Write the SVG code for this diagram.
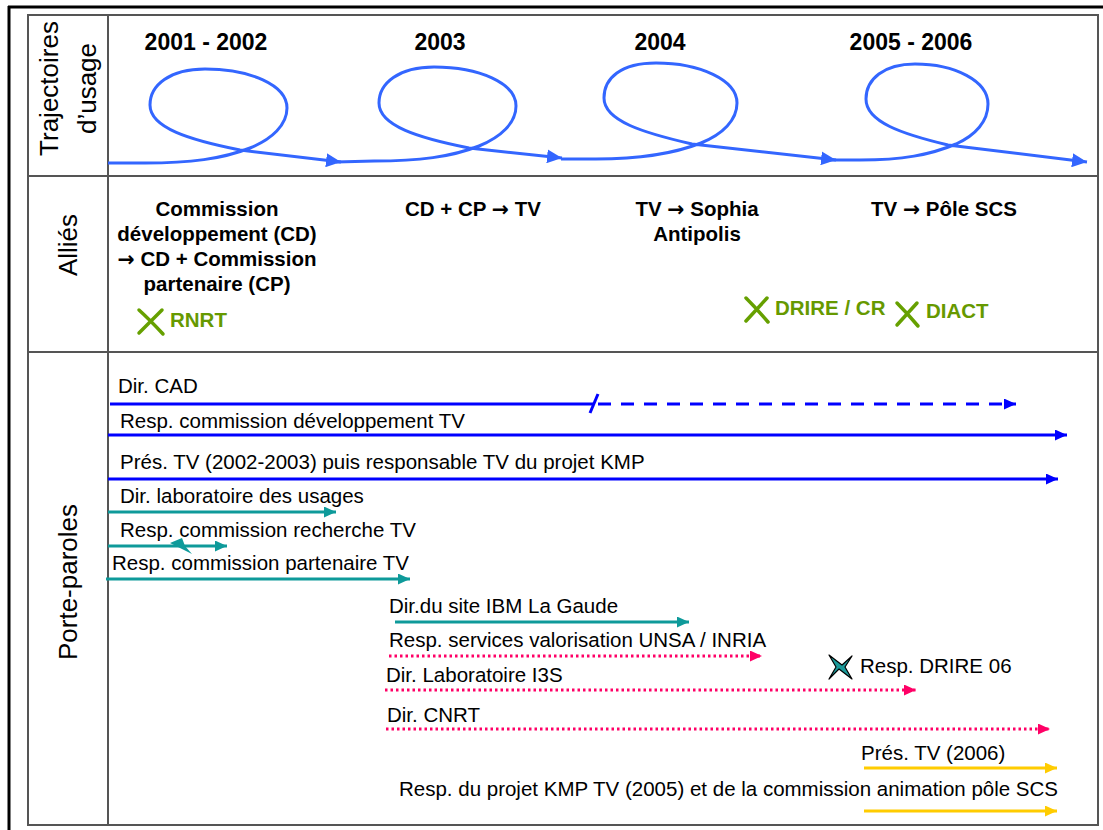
<svg xmlns="http://www.w3.org/2000/svg" width="1103" height="830" viewBox="0 0 1103 830">
<defs>
<style>
text{font-family:"Liberation Sans",Arial,sans-serif;fill:#000}
.side{font-size:26px;text-anchor:middle}
.year{font-size:23px;font-weight:bold;text-anchor:middle}
.ally{font-size:20.5px;font-weight:bold;text-anchor:middle}
.arr{font-family:"DejaVu Sans",sans-serif;font-weight:bold}
.green{font-size:20.5px;font-weight:bold;fill:#669900}
.lbl{font-size:20.5px}
.grid{stroke:#555;stroke-width:2;fill:none}
.traj{fill:none;stroke:#3366ff;stroke-width:3}
.blue{stroke:#0000ff;stroke-width:3;fill:none}
.teal{stroke:#0e9a9a;stroke-width:3;fill:none}
.pink{stroke:#ff0066;stroke-width:3;fill:none;stroke-dasharray:2.5 3}
.yellow{stroke:#ffcc00;stroke-width:3;fill:none}
.gx{stroke:#66a000;stroke-width:3.5;fill:none;stroke-linecap:round}
</style>
<marker id="aTraj" markerUnits="userSpaceOnUse" markerWidth="16" markerHeight="14" refX="15" refY="7" orient="auto"><path d="M0,0 L15,7 L0,14 Z" fill="#3366ff"/></marker>
<marker id="aBlue" markerUnits="userSpaceOnUse" markerWidth="13" markerHeight="11" refX="12" refY="5.5" orient="auto"><path d="M0,0 L12,5.5 L0,11 Z" fill="#0000ff"/></marker>
<marker id="aTeal" markerUnits="userSpaceOnUse" markerWidth="13" markerHeight="11" refX="12" refY="5.5" orient="auto"><path d="M0,0 L12,5.5 L0,11 Z" fill="#0e9a9a"/></marker>
<marker id="aPink" markerUnits="userSpaceOnUse" markerWidth="13" markerHeight="11" refX="12" refY="5.5" orient="auto"><path d="M0,0 L12,5.5 L0,11 Z" fill="#ff0066"/></marker>
<marker id="aYellow" markerUnits="userSpaceOnUse" markerWidth="13" markerHeight="11" refX="12" refY="5.5" orient="auto"><path d="M0,0 L12,5.5 L0,11 Z" fill="#ffcc00"/></marker>
</defs>
<rect x="0" y="0" width="1103" height="830" fill="#fff"/>
<g id="frame">
<path d="M8,7 H1103 M9,6 V830" stroke="#000" stroke-width="3" fill="none"/>
<rect class="grid" x="28" y="15" width="1070" height="810"/>
<path class="grid" d="M28,176 H1098 M28,352 H1098 M108,15 V825"/>
</g>
<g id="row-trajectoires">
<text class="side" transform="translate(58,88.5) rotate(-90)">Trajectoires</text>
<text class="side" transform="translate(96,88.5) rotate(-90)">d’usage</text>
<text class="year" x="206" y="50">2001 - 2002</text>
<text class="year" x="440" y="50">2003</text>
<text class="year" x="660" y="50">2004</text>
<text class="year" x="911" y="50">2005 - 2006</text>
</g>
<g id="trajectory">
<path class="traj" marker-end="url(#aTraj)" d="M108,163 L145,163 C190,163 222,159 250,148 C272,139 287,125 287,108 C287,85 250,69 205,69 C170,69 150,85 150,105 C150,128 190,140 240,150 L341,162"/>
<path class="traj" marker-end="url(#aTraj)" d="M336,162 L374,161 C419,161 451,157 479,146 C501,137 516,123 516,106 C516,83 479,67 434,67 C399,67 379,83 379,103 C379,126 419,138 469,148 L562,158"/>
<path class="traj" marker-end="url(#aTraj)" d="M561,159 L596,159 C641,159 673,154 701,143 C723,134 737,120 737,103 C737,80 700,63 656,63 C621,63 604,78 604,98 C604,121 644,133 692,144 L836,160"/>
<path class="traj" marker-end="url(#aTraj)" d="M826,160 L860,160 C902,160 930,155 956,144 C976,135 988,121 988,104 C988,81 955,64 915,64 C884,64 866,79 866,99 C866,122 902,134 948,145 L1087,162"/>
</g>
<g id="row-allies">
<text class="side" transform="translate(77,245) rotate(-90)">Alliés</text>
<text class="ally" x="217" y="216">Commission</text>
<text class="ally" x="217" y="241">développement (CD)</text>
<text class="ally" x="217" y="266"><tspan class="arr">→</tspan> CD + Commission</text>
<text class="ally" x="217" y="291">partenaire (CP)</text>
<text class="ally" x="473" y="216">CD + CP <tspan class="arr">→</tspan> TV</text>
<text class="ally" x="697" y="216">TV <tspan class="arr">→</tspan> Sophia</text>
<text class="ally" x="697" y="241">Antipolis</text>
<text class="ally" x="944" y="216">TV <tspan class="arr">→</tspan> Pôle SCS</text>
</g>
<g id="ally-rnrt">
<path class="gx" d="M139,310 Q150,320 163,334 M162,310 L139,333"/>
<text class="green" x="170" y="327">RNRT</text>
</g>
<g id="ally-drire">
<path class="gx" d="M746,298 Q756,308 768,322 M767,298 L746,321"/>
<text class="green" x="775" y="315">DRIRE / CR</text>
</g>
<g id="ally-diact">
<path class="gx" d="M897,303 Q907,313 918,326 M917,303 L897,325"/>
<text class="green" x="926" y="318">DIACT</text>
</g>
<g id="row-porte-paroles">
<text class="side" transform="translate(77,582) rotate(-90)">Porte-paroles</text>
</g>
<g id="connectors">
<path class="blue" d="M110,404 H594"/>
<path class="blue" d="M590,413 L598,394"/>
<path class="blue" stroke-dasharray="13 10" marker-end="url(#aBlue)" d="M598,404 H1016"/>
<path class="blue" marker-end="url(#aBlue)" d="M108,435 H1067"/>
<path class="blue" marker-end="url(#aBlue)" d="M108,479 H1058"/>
<path class="teal" marker-end="url(#aTeal)" d="M108,512 H336"/>
<path class="teal" marker-end="url(#aTeal)" d="M108,546 H227"/>
<polygon points="170,543 182,538 185,546 192,554" fill="#0e9a9a"/>
<path class="teal" marker-end="url(#aTeal)" d="M106,579 H410"/>
<path class="teal" marker-end="url(#aTeal)" d="M395,622 H689"/>
<path class="pink" marker-end="url(#aPink)" d="M389,656 H762"/>
<path class="pink" marker-end="url(#aPink)" d="M385,690 H916"/>
<path class="pink" marker-end="url(#aPink)" d="M386,729 H1050"/>
<path class="yellow" marker-end="url(#aYellow)" d="M864,768 H1057"/>
<path class="yellow" marker-end="url(#aYellow)" d="M864,811 H1057"/>
</g>
<g id="pp-dir-cad"><text class="lbl" x="118" y="393">Dir. CAD</text></g>
<g id="pp-resp-dev"><text class="lbl" x="120" y="428">Resp. commission développement TV</text></g>
<g id="pp-pres-tv"><text class="lbl" x="120" y="469">Prés. TV (2002-2003) puis responsable TV du projet KMP</text></g>
<g id="pp-dir-lab"><text class="lbl" x="120" y="503">Dir. laboratoire des usages</text></g>
<g id="pp-resp-rech"><text class="lbl" x="120" y="537">Resp. commission recherche TV</text></g>
<g id="pp-resp-part"><text class="lbl" x="112" y="570">Resp. commission partenaire TV</text></g>
<g id="pp-ibm"><text class="lbl" x="389" y="613">Dir.du site IBM La Gaude</text></g>
<g id="pp-unsa"><text class="lbl" x="389" y="647">Resp. services valorisation UNSA / INRIA</text></g>
<g id="pp-i3s"><text class="lbl" x="386" y="682">Dir. Laboratoire I3S</text></g>
<g id="pp-drire06">
<path d="M829,655 L842,665 L852,656 L845,667 L852,679 L839,669 L829,679 L836,667 Z" fill="#1a9999" stroke="#000" stroke-width="1.2" stroke-linejoin="round"/>
<text class="lbl" x="860" y="673">Resp. DRIRE 06</text>
</g>
<g id="pp-cnrt"><text class="lbl" x="387" y="722">Dir. CNRT</text></g>
<g id="pp-pres-2006"><text class="lbl" x="861" y="760">Prés. TV (2006)</text></g>
<g id="pp-kmp"><text class="lbl" x="399" y="796">Resp. du projet KMP TV (2005) et de la commission animation pôle SCS</text></g>
</svg>
